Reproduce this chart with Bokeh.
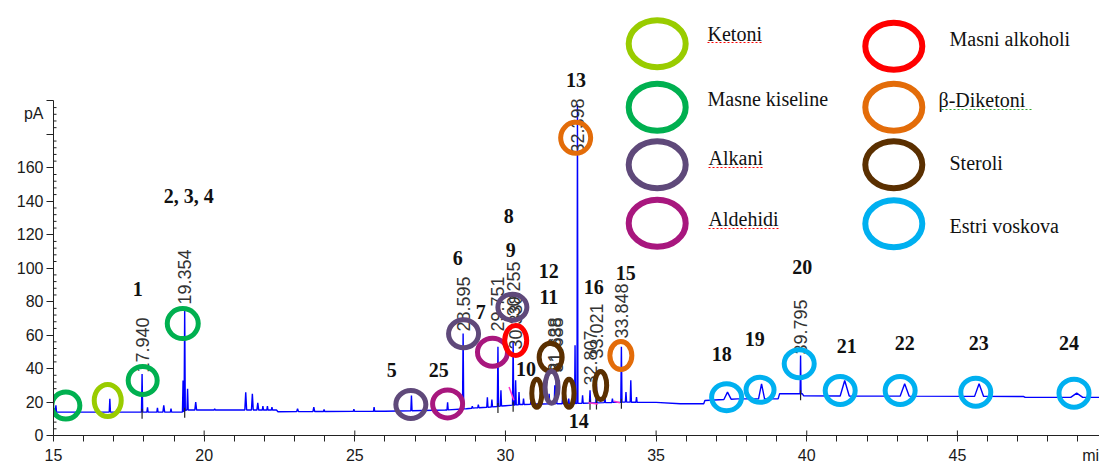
import numpy as np
from bokeh.plotting import figure
from bokeh.models import Range1d, FixedTicker
from bokeh.core.properties import value
from bokeh.embed import file_html
from bokeh.resources import INLINE

# ---------------- data ----------------
# baseline knots (retention time [min], signal [pA])
base_t  = [15.0, 19.3, 19.4, 22.4, 22.45, 26.0, 28.0, 28.7, 29.0, 29.5, 30.0, 30.5, 31.0,
           32.0, 33.0, 34.0, 34.4, 35.0, 35.8, 36.58, 36.62, 37.7, 39.05, 39.1, 39.85,
           39.9, 47.2, 47.25, 49.8]
base_pa = [14.0, 14.0, 15.2, 15.2, 14.2, 14.5, 15.2, 16.0, 16.5, 17.0, 17.8, 18.5, 18.8,
           19.0, 19.5, 20.0, 19.8, 19.8, 19.0, 19.0, 20.9, 21.9, 21.9, 25.0, 25.0,
           23.7, 23.3, 22.8, 22.8]

# peaks: retention time [min], apex [pA], half width at base [min]
peak_t  = [15.08, 16.87, 17.94, 18.12, 18.45, 18.66, 18.9, 19.30, 19.354, 19.45, 19.72,
           20.35, 21.38, 21.60, 21.78, 21.95, 22.10, 22.25, 23.10, 23.64, 23.98, 24.97,
           25.64, 26.88, 28.08, 28.595, 28.90, 29.10, 29.40, 29.55, 29.751, 29.85,
           30.255, 30.338, 30.45, 30.60, 30.85, 31.20, 31.45, 31.638, 31.688, 31.90,
           32.10, 32.31, 32.39, 32.56, 32.807, 33.021, 33.30, 33.55, 33.848, 34.00,
           34.16, 34.35, 37.37, 38.50, 39.795, 41.26, 43.25, 45.72, 48.96]
peak_pa = [18.0, 22.0, 36.8, 16.9, 16.5, 18.0, 16.0, 32.9, 76.0, 28.0, 20.0,
           16.0, 25.9, 25.0, 19.5, 17.5, 17.5, 17.0, 16.0, 17.0, 15.5, 15.8,
           17.0, 23.9, 19.9, 61.0, 17.5, 18.5, 22.9, 21.5, 53.0, 27.0,
           56.0, 33.0, 26.0, 22.0, 21.0, 22.0, 25.0, 30.0, 34.0, 24.0,
           22.0, 54.0, 198.0, 24.0, 27.0, 31.0, 23.0, 22.0, 53.0, 26.0,
           33.0, 23.0, 25.9, 30.9, 47.8, 32.9, 30.9, 30.9, 25.3]
peak_hw = [0.02, 0.02, 0.02, 0.02, 0.02, 0.03, 0.02, 0.02, 0.02, 0.02, 0.03,
           0.02, 0.03, 0.03, 0.03, 0.02, 0.02, 0.02, 0.03, 0.03, 0.02, 0.02,
           0.02, 0.02, 0.02, 0.02, 0.02, 0.02, 0.02, 0.02, 0.02, 0.02,
           0.02, 0.02, 0.02, 0.02, 0.02, 0.02, 0.02, 0.02, 0.02, 0.02,
           0.02, 0.015, 0.015, 0.02, 0.02, 0.02, 0.02, 0.02, 0.02, 0.02,
           0.02, 0.02, 0.12, 0.10, 0.015, 0.15, 0.15, 0.15, 0.20]

# retention-time labels printed above peaks
rt_text  = ["17.940", "19.354", "28.595", "29.751", "30.255", "30.338", "31.638",
            "31.688", "32.398", "32.807", "33.021", "33.848", "39.795"]
rt_t     = [17.94, 19.354, 28.595, 29.751, 30.255, 30.338, 31.638,
            31.688, 32.39, 32.807, 33.021, 33.848, 39.795]
rt_pa    = [37.7, 78.3, 62.2, 62.2, 71.1, 51.4, 37.7,
            37.7, 168.6, 29.9, 46.0, 58.0, 48.4]

# compound numbers
num_text = ["1", "2, 3, 4", "5", "25", "6", "7", "8", "9", "10", "11", "12", "13", "14",
            "15", "16", "18", "19", "20", "21", "22", "23", "24"]
num_t    = [17.80, 19.49, 26.23, 27.79, 28.42, 29.18, 30.11, 30.18, 30.68, 31.44, 31.44,
            32.34, 32.43, 33.99, 32.93, 37.18, 38.27, 39.85, 41.33, 43.25, 45.71, 48.70]
num_pa   = [87.3, 142.9, 38.9, 38.9, 105.8, 74.1, 131.5, 110.6, 40.0, 82.5, 98.6,
            212.2, 8.4, 97.4, 88.5, 49.0, 57.4, 100.7, 53.2, 55.0, 55.0, 55.0]

# compound classes
classes = ["Ketoni", "Masne kiseline", "Alkani", "Aldehidi",
           "Masni alkoholi", "β-Diketoni", "Steroli", "Estri voskova"]
class_colors = ["#99cc00", "#00b050", "#5f497a", "#a8177e",
                "#ff0000", "#e36c09", "#5a2f00", "#00b0f0"]

# class rings drawn around peaks
ring_class = [1, 0, 1, 1, 2, 3, 2, 3, 2, 4, 6, 6, 2, 6, 6, 5, 5, 7, 7, 7, 7, 7, 7, 7]
ring_t  = [15.41, 16.80, 17.96, 19.29, 26.86, 28.08, 28.61, 29.57, 30.23, 30.34, 31.50,
           31.04, 31.53, 32.11, 33.16, 33.83, 32.33, 37.34, 38.45, 39.75, 41.11, 43.10,
           45.61, 48.87]
ring_pa = [17.9, 20.9, 32.9, 66.9, 18.5, 18.9, 60.8, 49.8, 76.7, 56.8, 46.8,
           25.3, 28.9, 25.3, 29.9, 47.8, 177.9, 22.9, 27.3, 42.9, 26.9, 26.9,
           25.9, 25.3]

# integration marks
mark_t = [17.94, 19.354, 29.751, 30.255, 32.807, 33.021, 33.848, 39.795]

# axis ticks and labels
x_ticks = [15, 20, 25, 30, 35, 40, 45]
x_unit_pos, x_unit_text = 49.42, "mi"
y_ticks = [0, 20, 40, 60, 80, 100, 120, 140, 160, 180, 200]
y_label_hidden = [180, 200]
y_unit_pos, y_unit_text = 192.3, "pA"

# ---------------- layout / style ----------------
ring_w = [33, 32, 34, 36, 35, 35, 35, 35, 34, 27, 28, 15, 18, 15, 17, 27, 35,
          35, 33, 35, 35, 35, 35, 35]
ring_h = [32, 37, 33, 35, 33, 33, 33, 33, 31, 35, 33, 33, 37, 33, 33, 33, 36,
          32, 30, 33, 33, 33, 33, 33]

X0_PX, PX_PER_MIN = 53.0, 30.13
Y0_PX, PX_PER_PA = 435.0, 1.673
def tx(px): return 15 + (px - X0_PX) / PX_PER_MIN
def ty(py): return (Y0_PX - py) / PX_PER_PA

FRAME_W, FRAME_H = 1099 - 53, 435
x_end = 15 + FRAME_W / PX_PER_MIN
y_end = FRAME_H / PX_PER_PA

p = figure(frame_width=FRAME_W, frame_height=FRAME_H,
           x_range=Range1d(15, x_end), y_range=Range1d(0, y_end),
           output_backend="svg", toolbar_location=None,
           min_border_left=53, min_border_right=0, min_border_top=0, min_border_bottom=0)
p.outline_line_color = None
p.xgrid.visible = False
p.ygrid.visible = False
p.background_fill_color = "white"
p.border_fill_color = "white"

SANS = value("Liberation Sans")
SERIF = value("Liberation Serif")
AX = "#222222"

for ax in (p.xaxis, p.yaxis):
    ax.axis_line_color = AX
    ax.major_tick_line_color = None      # outer tick marks are drawn as "minor" ticks
    ax.minor_tick_line_color = AX
    ax.major_label_text_font = "Liberation Sans"
    ax.major_label_text_font_size = "16px"
    ax.major_label_text_color = "#1a1a1a"

# x axis: labels at majors (+ unit), outer marks every minute
p.xaxis.ticker = FixedTicker(ticks=x_ticks + [x_unit_pos], minor_ticks=list(range(15, 50)))
p.xaxis.major_label_overrides = {x_unit_pos: x_unit_text}
p.xaxis.major_tick_in = 0
p.xaxis.major_tick_out = 8
p.xaxis.minor_tick_in = 0
p.xaxis.minor_tick_out = 6
p.xaxis.major_label_standoff = 3

# y axis: labels at majors (+ unit), outer marks at majors
p.yaxis.ticker = FixedTicker(ticks=y_ticks + [y_unit_pos], minor_ticks=y_ticks)
p.yaxis.bounds = (0, 200)
ov = {v: "" for v in y_label_hidden}
ov[y_unit_pos] = y_unit_text
p.yaxis.major_label_overrides = ov
p.yaxis.major_tick_in = 0
p.yaxis.major_tick_out = 7
p.yaxis.minor_tick_in = 0
p.yaxis.minor_tick_out = 7
p.yaxis.major_label_standoff = 3

# inner tick parts (inside the frame)
y_minor = [v for v in range(4, 201, 4) if v % 20]
p.segment(x0=[15] * len(y_minor), x1=[15 + 3 / PX_PER_MIN] * len(y_minor),
          y0=y_minor, y1=y_minor, line_color=AX, line_width=1)
p.segment(x0=x_ticks, x1=x_ticks, y0=[0] * len(x_ticks),
          y1=[5 / PX_PER_PA] * len(x_ticks), line_color=AX, line_width=1)

# ---------------- chromatogram trace ----------------
spans = [(t - w, t + w) for t, w in zip(peak_t, peak_hw)]
pts = [(t, y) for t, y in zip(base_t, base_pa)
       if not any(a <= t <= b for a, b in spans)]
for t, h, w in zip(peak_t, peak_pa, peak_hw):
    pts.append((t - w, float(np.interp(t - w, base_t, base_pa))))
    pts.append((t, h))
    pts.append((t + w, float(np.interp(t + w, base_t, base_pa))))
pts.sort()
p.line([q[0] for q in pts], [q[1] for q in pts], line_color="#0000ff", line_width=1.4)

# integration marks
mb = np.interp(mark_t, base_t, base_pa)
p.segment(x0=mark_t, y0=list(mb - 4), x1=mark_t, y1=list(mb + 2),
          line_color=AX, line_width=1.2)
p.segment(x0=[30.12, 32.75, 33.60], y0=[29.0, 19.6, 20.5],
          x1=[30.28, 33.07, 33.80], y1=[21.0, 18.8, 19.6],
          line_color="#ff33cc", line_width=1.5)

# retention time labels
p.text(x=rt_t, y=rt_pa, text=rt_text, angle=np.pi / 2, text_align="left",
       text_baseline="middle", text_font=SANS, text_font_size="18px", text_color="#333333")

# rings
p.ellipse(x=ring_t, y=ring_pa, width=[w - 5 for w in ring_w], height=[h - 5 for h in ring_h],
          width_units="screen", height_units="screen", fill_alpha=0,
          line_color=[class_colors[i] for i in ring_class], line_width=5)

# compound numbers
p.text(x=num_t, y=num_pa, text=num_text, text_align="center", text_baseline="middle",
       text_font=SERIF, text_font_style="bold", text_font_size="20px", text_color="#111111")

# ---------------- legend ----------------
leg_px_x = [656.7, 656.7, 656.7, 656.7, 893.3, 893.3, 893.3, 893.3]
leg_px_y = [43.3, 106.7, 164.3, 222.7, 45.7, 106.7, 164.3, 223.3]
leg_txt_x = [707, 707, 708, 708, 949, 938, 949, 949]
leg_txt_y = [33, 98, 157, 218, 38, 99, 162, 225]
p.ellipse(x=[tx(v) for v in leg_px_x], y=[ty(v) for v in leg_px_y], width=57, height=47,
          width_units="screen", height_units="screen", fill_alpha=0,
          line_color=class_colors, line_width=6)
p.text(x=[tx(v) for v in leg_txt_x], y=[ty(v) for v in leg_txt_y], text=classes,
       text_align="left", text_baseline="middle", text_font=SERIF,
       text_font_size="20px", text_color="#111111")
# spell-check underlines
ul = [(707, 763, 42, "#ff0000"), (708, 762, 167, "#ff0000"), (708, 779, 228, "#ff0000"),
      (941, 1032, 109, "#33aa33")]
p.segment(x0=[tx(a) for a, b, c, d in ul], x1=[tx(b) for a, b, c, d in ul],
          y0=[ty(c) for a, b, c, d in ul], y1=[ty(c) for a, b, c, d in ul],
          line_color=[d for a, b, c, d in ul], line_width=1, line_dash="2 2")

open("out.html", "w").write(file_html(p, INLINE))
